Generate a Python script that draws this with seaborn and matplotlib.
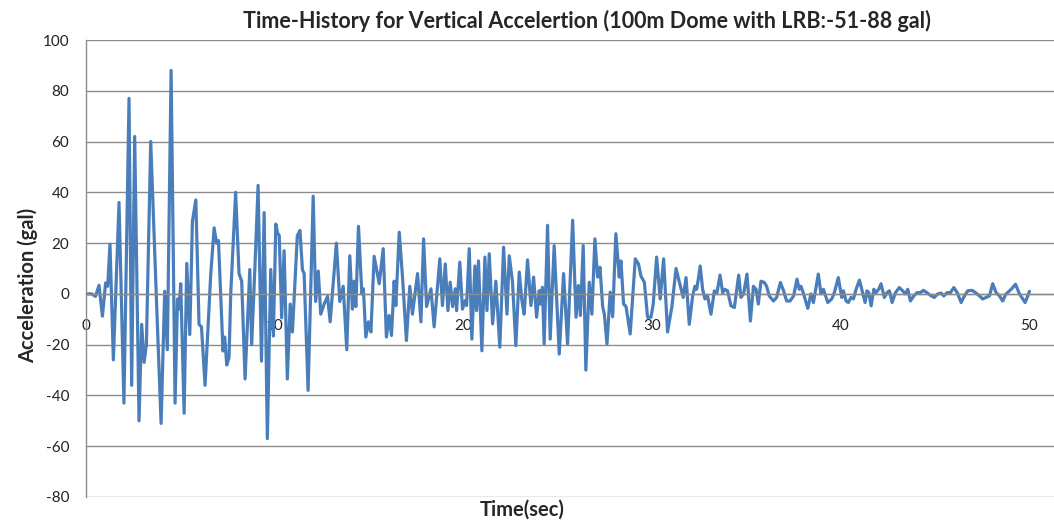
import matplotlib
matplotlib.use("Agg")
import matplotlib.pyplot as plt
import seaborn as sns
import pandas as pd

time_sec = [0.0, 0.3, 0.5, 0.69, 0.87, 1.04, 1.15, 1.27, 1.45, 1.75, 2.01, 2.28, 2.42, 2.58, 2.81, 2.95, 3.08, 3.2, 3.43, 3.73,
            3.98, 4.17, 4.31, 4.51, 4.72, 4.85, 4.93, 5.02, 5.2, 5.34, 5.5, 5.64, 5.82, 5.99, 6.12, 6.31, 6.61, 6.79, 6.92, 7.02,
            7.26, 7.35, 7.46, 7.58, 7.67, 7.93, 8.11, 8.25, 8.43, 8.68, 8.78, 8.96, 9.12, 9.3, 9.44, 9.61, 9.79, 9.93, 10.06, 10.15,
            10.24, 10.37, 10.5, 10.67, 10.82, 10.94, 11.2, 11.34, 11.47, 11.56, 11.77, 12.04, 12.17, 12.31, 12.44, 12.62, 12.8, 12.94, 13.1, 13.27,
            13.45, 13.63, 13.82, 13.98, 14.12, 14.21, 14.3, 14.44, 14.62, 14.7, 14.83, 14.97, 15.1, 15.27, 15.54, 15.75, 15.92, 16.06, 16.19, 16.33,
            16.42, 16.6, 16.78, 16.98, 17.16, 17.3, 17.39, 17.57, 17.75, 17.89, 18.05, 18.28, 18.45, 18.75, 18.89, 19.04, 19.18, 19.3, 19.43, 19.57,
            19.64, 19.81, 19.95, 20.1, 20.17, 20.31, 20.45, 20.61, 20.7, 20.8, 20.98, 21.14, 21.25, 21.37, 21.55, 21.72, 21.93, 22.13, 22.31, 22.43,
            22.6, 22.78, 22.96, 23.1, 23.22, 23.4, 23.58, 23.72, 23.88, 24.02, 24.1, 24.19, 24.28, 24.46, 24.6, 24.81, 25.08, 25.31, 25.52, 25.79,
            25.97, 26.09, 26.2, 26.35, 26.49, 26.67, 26.81, 26.97, 27.11, 27.24, 27.38, 27.47, 27.61, 27.78, 27.91, 28.08, 28.26, 28.35, 28.49, 28.62,
            28.84, 29.11, 29.28, 29.41, 29.59, 29.76, 29.94, 30.06, 30.24, 30.43, 30.61, 30.82, 31.05, 31.27, 31.4, 31.65, 31.8, 31.97, 32.15, 32.27,
            32.36, 32.45, 32.55, 32.68, 32.8, 32.94, 33.12, 33.3, 33.44, 33.6, 33.74, 33.86, 34.0, 34.18, 34.36, 34.59, 34.71, 34.85, 35.03, 35.21,
            35.37, 35.51, 35.63, 35.77, 35.95, 36.07, 36.21, 36.43, 36.6, 36.8, 36.97, 37.13, 37.31, 37.5, 37.68, 37.8, 37.89, 38.01, 38.25, 38.42,
            38.55, 38.81, 38.95, 39.08, 39.31, 39.52, 39.66, 39.87, 40.05, 40.14, 40.28, 40.4, 40.54, 40.67, 40.81, 40.99, 41.16, 41.29, 41.39, 41.48,
            41.61, 41.75, 41.87, 42.01, 42.13, 42.31, 42.45, 42.58, 42.72, 42.9, 43.1, 43.28, 43.42, 43.55, 43.69, 43.87, 44.04, 44.22, 44.38, 44.56,
            44.79, 44.96, 45.14, 45.32, 45.46, 45.64, 45.81, 45.99, 46.17, 46.38, 46.55, 46.73, 46.96, 47.14, 47.35, 47.52, 47.7, 47.88, 48.05, 48.23,
            48.41, 48.58, 48.76, 49.03, 49.26, 49.47, 49.65, 49.77, 49.91, 50.0]

accel_gal = [0, 0, -1, 3.4, -8.8, 4.3, 3, 19.6, -26, 36, -43, 77, -36, 62, -50, -12, -27, -20, 60, -1.6,
             -51, 1, -22, 88, -43, -2, -6, 4, -47, 12, -16, 28.6, 37, -12, -13, -36, 7.6, 26, 20, 21,
             -22.5, -17, -28, -25, 0, 40, 8, 5, -33.5, 9.6, -20, 12, 42.7, -26.5, 32, -57, 9.6, -16.6, 27.5, 24,
             23, -9.4, 17, -33.5, -4, -15, 23, 25, 9.5, 8, -38, 38.5, -3, 9, -8, -4, -1, -11, 4, 20,
             -3, 3, -22, 15, -6, 5, -5, 26.6, 0, 2, -17, -11, -15, 14.8, 4, 17.8, -17, -8.5, -16.4, 5,
             -4.6, 24.3, 6, -18.4, 3, -8, -2.6, 8, -11, 21.7, -5, 2, -13, 13.8, -4.6, 11.8, -6.6, 4.6, -5, 2,
             -6.6, 12.5, -6, -2.6, -4.6, 17.8, -17.8, 11, -6.6, 13, -22.4, 14.5, -6.6, 15.8, -11.8, 5, -21, 18.4, -8, 15,
             5, -20.4, 8.6, -2.6, -8, 13.4, -4.6, 6.6, -9.2, 1.3, -4, 2.6, -19.7, 27, -17.8, 19, -23.7, 8, -19.7, 29,
             -9.2, 3.3, -8.5, 19, -30, 4.6, -8, 21.7, 6.6, 10.5, -5, -8, -19.7, 0.7, -9, 23.7, 6.6, 13, -4, -5,
             -15.8, 13.8, 11.8, 7, 4.6, -9.2, -9.2, -4, 14.5, -2, 13.8, -15, -5, 10, 6, -1.4, 6.4, -12, -0.8, 3,
             1.8, 5.8, 11, 1.8, -2, -0.8, -8, 1.2, 0.5, 7.4, 0.5, 1.8, 1.2, -4.7, -5.4, 7.4, -1.4, 0, 7.8, -10.7,
             3, 1.8, -4, 5, 4.5, 3, -0.8, -2.8, -1.4, 4.5, 1.2, -2.8, -2.8, -0.8, 5.8, 1.8, 3, 0.5, -5.7, 0,
             -3.4, 7.8, 0, 1.8, -3.4, -2, 0.5, 6.4, -1.4, 1.2, -2.8, -3.4, -1.4, -2, 1.8, 5.4, 0.5, -3.4, 1.2, 0.5,
             -4.7, 1.8, 0.5, 1.8, 4, -1.4, 0.5, 1.2, -3.4, 0.5, 2.5, 1.2, 0, 1.8, -2.8, -0.8, 0.5, 0.5, 1.4, 0.5,
             -0.8, -1.4, 0, 0.3, -0.8, 0.5, 0.5, 2.5, 0.5, -3.4, -0.8, 1.2, 1.4, 0.5, -0.8, -2, -1.4, -0.8, 4, 0.5,
             -0.8, -2.8, 0, 1.8, 3.8, 0, -2, -3.4, -0.8, 1]

y_ticks = [100, 80, 60, 40, 20, 0, -20, -40, -60, -80]
x_ticks = [0, 10, 20, 30, 40, 50]

title_text = "Time-History for Vertical Accelertion (100m Dome with LRB:-51-88 gal)"
x_label = "Time(sec)"
y_label = "Acceleration (gal)"

df = pd.DataFrame({"t": time_sec, "a": accel_gal})

sns.set_style("white")
plt.rcParams["font.family"] = ["Lato", "DejaVu Sans"]
plt.rcParams["axes.unicode_minus"] = False

W, H = 1054, 525
fig = plt.figure(figsize=(W / 100, H / 100), dpi=100)
ax = fig.add_axes([86 / W, (H - 497) / H, (W - 86) / W, (497 - 40) / H])

sns.lineplot(data=df, x="t", y="a", ax=ax, color="#4a7ebb", linewidth=2.3, estimator=None, sort=False)

ax.set_xlim(0, 51.3)
ax.set_ylim(-80, 100)
ax.set_yticks(y_ticks)
ax.set_xticks(x_ticks)
ax.yaxis.grid(True, color="#8c8c8c", linewidth=1.0)
ax.xaxis.grid(False)
ax.set_axisbelow(True)

for s in ["top", "right"]:
    ax.spines[s].set_visible(False)
ax.spines["left"].set_color("#8c8c8c")
ax.spines["left"].set_linewidth(1.0)
ax.spines["bottom"].set_position(("data", 0))
ax.spines["bottom"].set_color("#8c8c8c")
ax.spines["bottom"].set_linewidth(1.0)

ax.tick_params(axis="y", direction="out", length=6, width=1, color="#8c8c8c", labelsize=11, pad=6, labelcolor="#222222")
ax.tick_params(axis="x", direction="out", length=0, labelsize=11, pad=18, labelcolor="#222222")

ax.set_xlabel("")
ax.set_ylabel("")
fig.text(522 / W, 1 - 510 / H, x_label, ha="center", va="center", fontsize=14.5, fontweight="bold")
fig.text(28 / W, 1 - 285 / H, y_label, ha="center", va="center", rotation=90, fontsize=14.5, fontweight="bold")
fig.text(587 / W, 1 - 21 / H, title_text, ha="center", va="center", fontsize=15.5, fontweight="bold")

fig.savefig("out.png", dpi=100)
